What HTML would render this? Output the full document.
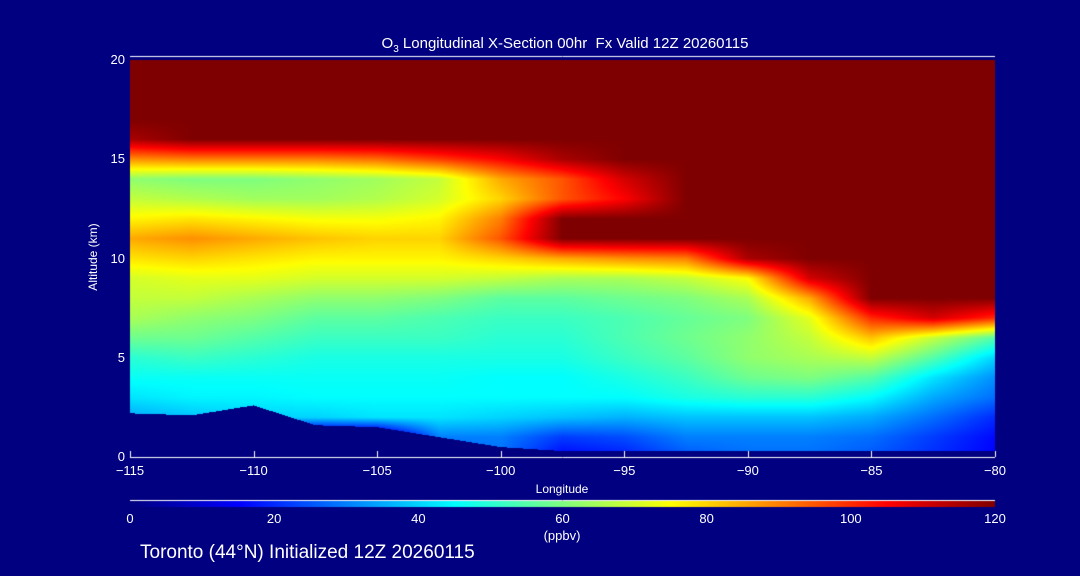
<!DOCTYPE html>
<html><head><meta charset="utf-8">
<style>
body{margin:0;background:#000080;}
#root{position:relative;width:1080px;height:576px;background:#000080;overflow:hidden;font-family:"Liberation Sans",sans-serif;color:#fff;}
.t{position:absolute;white-space:nowrap;font-size:13px;}
</style></head>
<body>
<div id="root">
<div class="t" style="left:0;width:1130px;text-align:center;top:35px;font-size:15px;">O<sub style="font-size:10px">3</sub> Longitudinal X-Section 00hr&nbsp; Fx Valid 12Z 20260115</div>
<canvas id="cv" width="1080" height="576" style="position:absolute;left:0;top:0"></canvas>
<div class="t" style="left:50px;top:250px;width:86px;text-align:center;transform:rotate(-90deg);font-size:12px;">Altitude (km)</div>
<div class="t" style="left:512px;width:100px;text-align:center;top:482px;font-size:12px;">Longitude</div>
<div class="t" style="left:512px;width:100px;text-align:center;top:528px;font-size:13px;">(ppbv)</div>
<div class="t" style="left:140px;top:542px;font-size:19px;">Toronto (44°N) Initialized 12Z 20260115</div>
<div id="labels"></div>
</div>
<script>
const lons=[-115,-112.5,-110,-107.5,-105,-102.5,-100,-97.5,-95,-92.5,-90,-87.5,-85,-82.5,-80];
const alts=[0,1,2,3,4,5,6,7,8,9,10,11,12,13,14,15,16,17,18,19,20];
const terrain=[2.2,2.1,2.6,1.6,1.5,1.0,0.5,0.3,0.3,0.3,0.3,0.3,0.3,0.3,0.3];
const o3=[
[0,0,0,0,0,25,28,15,18,25,28,28,25,20,15],
[0,0,0,0,0,30,30,22,24,30,30,30,28,22,16],
[35,38,40,40,42,42,40,38,36,38,38,38,35,28,20],
[42,44,44,45,45,45,45,45,45,48,50,50,45,35,28],
[46,46,46,46,46,46,45,45,48,52,58,60,55,42,32],
[50,52,50,48,48,48,48,48,52,56,62,65,68,55,40],
[58,58,55,52,52,52,50,50,54,58,62,68,82,68,55],
[65,62,60,56,56,54,52,52,54,57,60,72,100,110,100],
[68,68,65,62,62,60,56,56,58,60,65,85,120,120,120],
[70,72,72,70,70,70,68,65,65,68,75,110,120,120,120],
[78,80,78,76,76,76,80,85,88,90,115,120,120,120,120],
[85,88,85,82,80,80,95,120,120,120,120,120,120,120,120],
[76,78,76,74,74,76,90,120,120,120,120,120,120,120,120],
[68,66,64,64,66,70,80,95,105,120,120,120,120,120,120],
[62,60,60,62,64,68,85,95,110,120,120,120,120,120,120],
[88,90,90,90,92,98,105,115,120,120,120,120,120,120,120],
[115,120,120,120,120,120,120,120,120,120,120,120,120,120,120],
[120,120,120,120,120,120,120,120,120,120,120,120,120,120,120],
[120,120,120,120,120,120,120,120,120,120,120,120,120,120,120],
[120,120,120,120,120,120,120,120,120,120,120,120,120,120,120],
[120,120,120,120,120,120,120,120,120,120,120,120,120,120,120]];
const xTicks=[-115,-110,-105,-100,-95,-90,-85,-80];
const yTicks=[0,5,10,15,20];
const cTicks=[0,20,40,60,80,100,120];

const X0=130,X1=995,Y0=457,Y1=60;
const xs=l=>X0+(l-lons[0])/(lons[lons.length-1]-lons[0])*(X1-X0);
const ys=a=>Y0-(a-alts[0])/(alts[alts.length-1]-alts[0])*(Y0-Y1);
function jet(v){let t=Math.max(0,Math.min(1,v/120));
 const f=(x)=>Math.max(0,Math.min(1,x));
 let r=f(Math.min(4*t-1.5,-4*t+4.5)),g=f(Math.min(4*t-0.5,-4*t+3.5)),b=f(Math.min(4*t+0.5,-4*t+2.5));
 return [r*255|0,g*255|0,b*255|0];}
const cv=document.getElementById('cv'),ctx=cv.getContext('2d');
const W=X1-X0,H=Y0-Y1,img=ctx.createImageData(W,H);
for(let py=0;py<H;py++){
 const alt=(Y0-(Y1+py+0.5))/(Y0-Y1)*20;
 const ai=Math.min(alts.length-2,Math.floor(alt)),at=alt-alts[ai];
 for(let px=0;px<W;px++){
  const lon=lons[0]+(px+0.5)/W*35;
  const li=Math.min(lons.length-2,Math.floor((lon-lons[0])/2.5)),lt=(lon-lons[li])/2.5;
  const ter=terrain[li]*(1-lt)+terrain[li+1]*lt;
  let c;
  if(alt<ter)c=[0,0,128];
  else{const v=(o3[ai][li]*(1-lt)+o3[ai][li+1]*lt)*(1-at)+(o3[ai+1][li]*(1-lt)+o3[ai+1][li+1]*lt)*at;c=jet(v);}
  const k=(py*W+px)*4;img.data[k]=c[0];img.data[k+1]=c[1];img.data[k+2]=c[2];img.data[k+3]=255;}}
ctx.putImageData(img,X0,Y1);
ctx.strokeStyle='#fff';ctx.lineWidth=1;
ctx.beginPath();ctx.moveTo(X0,Y1-3.5);ctx.lineTo(X1,Y1-3.5);ctx.stroke();
ctx.beginPath();ctx.moveTo(X0,Y0+0.5);ctx.lineTo(X1,Y0+0.5);ctx.stroke();
xTicks.forEach(t=>{ctx.beginPath();ctx.moveTo(Math.round(xs(t))+0.5,Y0);ctx.lineTo(Math.round(xs(t))+0.5,Y0-6);ctx.stroke();});
ctx.beginPath();ctx.moveTo(X0,500.5);ctx.lineTo(X1,500.5);ctx.stroke();
for(let px=X0;px<X1;px++){const c=jet((px-X0)/(X1-X0)*120);ctx.fillStyle=`rgb(${c})`;ctx.fillRect(px,501,1,6);}
const lab=document.getElementById('labels');
function add(txt,x,y,name,align){const d=document.createElement('div');d.className='t';d.textContent=txt;
 
 
 d.style.top=y+'px';
 if(align==='r'){d.style.left=(x-60)+'px';d.style.width='60px';d.style.textAlign='right';}
 else{d.style.left=(x-40)+'px';d.style.width='80px';d.style.textAlign='center';}
 lab.appendChild(d);}
xTicks.forEach(t=>add(String(t).replace('-','\u2212'),xs(t),463,'x-tick-label','c'));
yTicks.forEach(t=>add(String(t),125,ys(t)-8,'y-tick-label','r'));
cTicks.forEach(t=>add(String(t),X0+t/120*(X1-X0),511,'colorbar-tick-label','c'));
</script>
</body></html>
